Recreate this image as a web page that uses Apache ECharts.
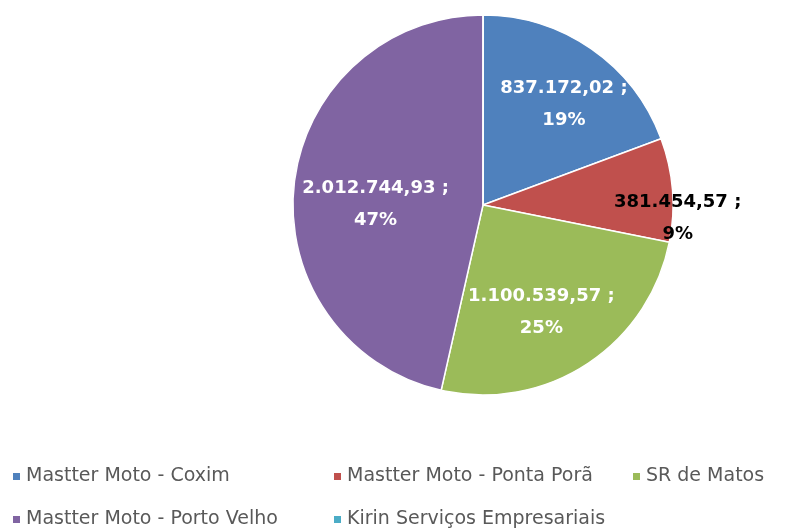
<!DOCTYPE html>
<html>
<head>
<meta charset="utf-8">
<script src="https://cdn.jsdelivr.net/npm/echarts@6/dist/echarts.min.js"></script>
<style>
  html, body { margin: 0; padding: 0; background: #fff; }
  #chart { width: 811px; height: 531px; }
</style>
</head>
<body>
<div id="chart"></div>
<script>
const categories = [
  'Mastter Moto - Coxim',
  'Mastter Moto - Ponta Porã',
  'SR de Matos',
  'Mastter Moto - Porto Velho',
  'Kirin Serviços Empresariais'
];
const values = [837172.02, 381454.57, 1100539.57, 2012744.93, 0];
const colors = ['#4F81BD', '#C0504D', '#9BBB59', '#8064A2', '#4BACC6'];

// label nudges away from the default "inside" spot
const labelShift = [[25, -20], [97, 21], [5, 25], [-10, 10], [0, 0]];

const fmtBR = v => {
  const parts = v.toFixed(2).split('.');
  return parts[0].replace(/\B(?=(\d{3})+(?!\d))/g, '.') + ',' + parts[1];
};

const chart = echarts.init(document.getElementById('chart'));

const legendText = { color: '#595959', fontSize: 19, fontFamily: 'DejaVu Sans' };
const legendBase = {
  orient: 'vertical',
  top: 462,
  height: 69,
  itemWidth: 9,
  itemHeight: 9,
  itemGap: 24,
  icon: 'rect',
  textStyle: legendText,
  selectedMode: false
};

chart.setOption({
  animation: false,
  color: colors,
  legend: [
    Object.assign({}, legendBase, { left: 6, data: [categories[0], categories[3]] }),
    Object.assign({}, legendBase, { left: 327, data: [categories[1], categories[4]] }),
    Object.assign({}, legendBase, { left: 626, data: [categories[2]] })
  ],
  series: [
    {
      type: 'pie',
      center: [483, 205],
      radius: 190,
      startAngle: 90,
      clockwise: true,
      percentPrecision: 0,
      avoidLabelOverlap: false,
      itemStyle: { borderColor: '#fff', borderWidth: 1.5 },
      label: {
        show: true,
        position: 'inside',
        color: '#fff',
        fontWeight: 'bold',
        fontSize: 18,
        fontFamily: 'DejaVu Sans',
        lineHeight: 32,
        formatter: p => fmtBR(p.value) + ' ;\n' + p.percent + '%'
      },
      labelLine: { show: false },
      labelLayout: p => ({ dx: labelShift[p.dataIndex][0], dy: labelShift[p.dataIndex][1] }),
      emphasis: { disabled: true },
      data: categories.map((name, i) => {
        const d = { name: name, value: values[i] };
        if (i === 1) d.label = { color: '#000' };
        if (values[i] === 0) d.label = { show: false };
        return d;
      })
    }
  ]
});
</script>
</body>
</html>
